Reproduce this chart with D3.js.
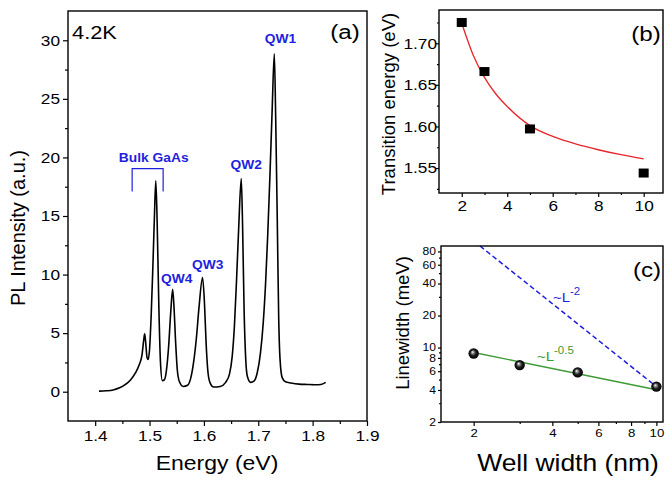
<!DOCTYPE html>
<html>
<head>
<meta charset="utf-8">
<script src="https://cdnjs.cloudflare.com/ajax/libs/d3/7.8.5/d3.min.js"></script>
<style>
body { margin: 0; background: #fff; }
svg { display: block; }
text { font-family: "Liberation Sans", Arial, Helvetica, sans-serif; }
</style>
</head>
<body>
<script>
// ---- panel (a): PL spectrum at 4.2K ----
var energy = [1.407, 1.420, 1.433, 1.445, 1.455, 1.465, 1.474, 1.481, 1.486, 1.4895,
	1.491, 1.4925, 1.4955, 1.4975, 1.500, 1.503, 1.506, 1.509, 1.5115, 1.514,
	1.517, 1.520, 1.5235, 1.527, 1.531, 1.535, 1.539, 1.5425, 1.545, 1.548,
	1.551, 1.555, 1.562, 1.570, 1.576, 1.581, 1.586, 1.591, 1.5975, 1.601,
	1.604, 1.607, 1.611, 1.618, 1.630, 1.640, 1.647, 1.652, 1.656, 1.660,
	1.664, 1.6687, 1.671, 1.674, 1.677, 1.680, 1.686, 1.692, 1.698, 1.704,
	1.709, 1.7135, 1.7175, 1.7215, 1.7255, 1.7295, 1.732, 1.735, 1.7375, 1.740,
	1.744, 1.750, 1.760, 1.775, 1.790, 1.805, 1.815, 1.824];
var intensity = [0.05, 0.08, 0.15, 0.33, 0.6, 1.0, 1.6, 2.3, 3.1, 4.5,
	4.95, 4.4, 2.9, 2.75, 3.6, 6.5, 10.5, 15.0, 18.0, 14.5,
	7.5, 2.6, 0.95, 1.0, 1.8, 3.8, 6.8, 8.75, 7.2, 4.2,
	1.9, 0.85, 0.45, 0.55, 1.2, 2.5, 4.5, 7.2, 9.75, 7.6,
	4.2, 1.9, 0.8, 0.4, 0.45, 0.8, 1.5, 3.0, 5.5, 9.5,
	14.0, 18.2, 14.5, 6.8, 2.7, 1.3, 0.8, 0.9, 1.6, 3.3,
	5.8, 9.3, 13.5, 18.5, 24.0, 28.85, 23.5, 14.5, 6.5, 2.8,
	1.2, 0.85, 0.75, 0.65, 0.62, 0.6, 0.62, 0.8];
var peakNames = ["Bulk GaAs", "QW4", "QW3", "QW2", "QW1"];
var peakNameE = [1.5076, 1.550, 1.607, 1.678, 1.7408];
var peakNameI = [19.6, 9.3, 10.5, 19.05, 29.8];
var bracketE = [1.468, 1.525];
var bracketI = [17.1, 19.05];
var xTicksA = [1.4, 1.5, 1.6, 1.7, 1.8, 1.9];
var yTicksA = [0, 5, 10, 15, 20, 25, 30];

// ---- panel (b): transition energy vs well width ----
var wellWidth = [2, 3, 5, 10];
var transEnergy = [1.725, 1.666, 1.597, 1.544];
var fitWidth = [2, 2.5, 3, 3.5, 4, 5, 6, 7, 8, 9, 10];
var fitEnergy = [1.724, 1.686, 1.659, 1.639, 1.624, 1.601, 1.588, 1.579, 1.572, 1.566, 1.561];
var xTicksB = [2, 4, 6, 8, 10];
var yTicksB = [1.55, 1.60, 1.65, 1.70];

// ---- panel (c): linewidth vs well width (log-log) ----
var lineWidth = [8.8, 6.85, 5.85, 4.3];
var greenWidth = [2, 10];
var greenLine = [9.0, 4.02];
var blueWidth = [2.115, 10];
var blueLine = [90, 4.3];
var xTicksC = [2, 4, 6, 8, 10];
var yTicksC = [2, 4, 6, 8, 10, 20, 40, 60, 80];

var SX = 1.15; // the original figure text is a bit wider than Arial
var blue = "#1f1fe0", green = "#3d9a35", red = "#e8262a";

var svg = d3.select("body").append("svg").attr("width", 665).attr("height", 478);

var defs = svg.append("defs");
var grad = defs.append("radialGradient").attr("id", "ball")
	.attr("cx", "50%").attr("cy", "50%").attr("r", "50%").attr("fx", "38%").attr("fy", "35%");
grad.append("stop").attr("offset", "0%").attr("stop-color", "#ffffff");
grad.append("stop").attr("offset", "22%").attr("stop-color", "#9a9a9a");
grad.append("stop").attr("offset", "55%").attr("stop-color", "#202020");
grad.append("stop").attr("offset", "100%").attr("stop-color", "#000000");

function label(g, x, y, str, size, opts) {
	opts = opts || {};
	var t = g.append("text")
		.attr("transform", "translate(" + x + "," + y + ")" + (opts.rotate ? " rotate(-90)" : " scale(" + SX + ",1)"))
		.attr("text-anchor", opts.anchor || "middle")
		.attr("font-size", size)
		.attr("font-weight", opts.bold ? "bold" : null)
		.attr("fill", opts.color || "#000")
		.text(str);
	return t;
}

function styleAxis(g, size, textX) {
	g.select(".domain").remove();
	g.selectAll("line").attr("stroke", "#000").attr("stroke-width", 1.2);
	g.selectAll("text").attr("font-size", size).attr("fill", "#000")
		.attr("font-family", "Liberation Sans, Arial, sans-serif")
		.attr("transform", "scale(" + SX + ",1)");
	if (textX !== undefined) g.selectAll("text").attr("x", textX / SX);
}

function frame(g, x, y) {
	g.append("rect")
		.attr("x", x.range()[0]).attr("y", y.range()[1])
		.attr("width", x.range()[1] - x.range()[0])
		.attr("height", y.range()[0] - y.range()[1])
		.attr("fill", "none").attr("stroke", "#000").attr("stroke-width", 1.4);
}

// ================= panel (a) =================
var ga = svg.append("g");
var xa = d3.scaleLinear().domain([1.35, 1.9]).range([68, 367]);
var ya = d3.scaleLinear().domain([-2.5, 32.5]).range([421, 11]);

ga.append("g").attr("transform", "translate(0,421)")
	.call(d3.axisBottom(xa).tickValues(d3.range(1.45, 1.9, 0.1)).tickSize(3).tickFormat(""))
	.call(function (g) { styleAxis(g, 0); });
ga.append("g").attr("transform", "translate(0,421)")
	.call(d3.axisBottom(xa).tickValues(xTicksA).tickSize(5).tickPadding(4).tickFormat(d3.format(".1f")))
	.call(function (g) { styleAxis(g, 15); });
ga.append("g").attr("transform", "translate(68,0)")
	.call(d3.axisLeft(ya).tickValues(d3.range(2.5, 30, 5)).tickSize(3).tickFormat(""))
	.call(function (g) { styleAxis(g, 0); });
ga.append("g").attr("transform", "translate(68,0)")
	.call(d3.axisLeft(ya).tickValues(yTicksA).tickSize(5).tickFormat(d3.format("d")))
	.call(function (g) { styleAxis(g, 15, -8); });

var spec = energy.map(function (e, i) { return [e, intensity[i]]; });
ga.append("path").datum(spec)
	.attr("fill", "none").attr("stroke", "#000").attr("stroke-width", 1.6)
	.attr("stroke-linejoin", "round")
	.attr("d", d3.line().x(function (d) { return xa(d[0]); }).y(function (d) { return ya(d[1]); })
		.curve(d3.curveMonotoneX));

ga.append("path")
	.attr("fill", "none").attr("stroke", blue).attr("stroke-width", 1.2)
	.attr("d", "M" + xa(bracketE[0]) + "," + ya(bracketI[0]) +
		"V" + ya(bracketI[1]) + "H" + xa(bracketE[1]) + "V" + ya(bracketI[0]));

peakNames.forEach(function (n, i) {
	label(ga, xa(peakNameE[i]), ya(peakNameI[i]), n, 12, { bold: true, color: blue });
});

frame(ga, xa, ya);
label(ga, 72, 39, "4.2K", 19, { anchor: "start" });
label(ga, 345, 39, "(a)", 21);
label(ga, 217, 470, "Energy (eV)", 20);
label(ga, 25, 228, "PL Intensity (a.u.)", 20, { rotate: true });

// ================= panel (b) =================
var gb = svg.append("g");
var xb = d3.scaleLinear().domain([1, 10.85]).range([439, 663]);
var yb = d3.scaleLinear().domain([1.52, 1.74]).range([193, 10]);

gb.append("g").attr("transform", "translate(0,193)")
	.call(d3.axisBottom(xb).tickValues([3, 5, 7, 9]).tickSize(2).tickFormat(""))
	.call(function (g) { styleAxis(g, 0); });
gb.append("g").attr("transform", "translate(0,193)")
	.call(d3.axisBottom(xb).tickValues(xTicksB).tickSize(4).tickPadding(3).tickFormat(d3.format("d")))
	.call(function (g) { styleAxis(g, 15); });
gb.append("g").attr("transform", "translate(439,0)")
	.call(d3.axisLeft(yb).tickValues([1.525, 1.575, 1.625, 1.675, 1.725]).tickSize(2).tickFormat(""))
	.call(function (g) { styleAxis(g, 0); });
gb.append("g").attr("transform", "translate(439,0)")
	.call(d3.axisLeft(yb).tickValues(yTicksB).tickSize(3).tickFormat(d3.format(".2f")))
	.call(function (g) { styleAxis(g, 15, -2); });

var fit = fitWidth.map(function (w, i) { return [w, fitEnergy[i]]; });
gb.append("path").datum(fit)
	.attr("fill", "none").attr("stroke", red).attr("stroke-width", 1.3)
	.attr("d", d3.line().x(function (d) { return xb(d[0]); }).y(function (d) { return yb(d[1]); })
		.curve(d3.curveMonotoneX));

gb.selectAll("rect.sq").data(wellWidth).enter().append("rect")
	.attr("class", "sq")
	.attr("x", function (d) { return xb(d) - 5; })
	.attr("y", function (d, i) { return yb(transEnergy[i]) - 4.5; })
	.attr("width", 10).attr("height", 9)
	.attr("fill", "#000");

frame(gb, xb, yb);
label(gb, 646, 41, "(b)", 21);
label(gb, 395, 104, "Transition energy (eV)", 18.5, { rotate: true });

// ================= panel (c) =================
var gc = svg.append("g");
var xc = d3.scaleLog().domain([1.5, 10.6]).range([441, 663]);
var yc = d3.scaleLog().domain([2, 90]).range([422, 246]);

gc.append("g").attr("transform", "translate(0,422)")
	.call(d3.axisBottom(xc).tickValues([3, 5, 7, 9]).tickSize(2).tickFormat(""))
	.call(function (g) { styleAxis(g, 0); });
gc.append("g").attr("transform", "translate(0,422)")
	.call(d3.axisBottom(xc).tickValues(xTicksC).tickSize(4).tickPadding(3).tickFormat(d3.format("d")))
	.call(function (g) { styleAxis(g, 11.5); });
gc.append("g").attr("transform", "translate(441,0)")
	.call(d3.axisLeft(yc).tickValues([3, 5, 7, 9, 30, 50, 70]).tickSize(2).tickFormat(""))
	.call(function (g) { styleAxis(g, 0); });
gc.append("g").attr("transform", "translate(441,0)")
	.call(d3.axisLeft(yc).tickValues(yTicksC).tickSize(3).tickFormat(d3.format("d")))
	.call(function (g) { styleAxis(g, 10.5, -5); });

gc.append("line")
	.attr("x1", xc(blueWidth[0])).attr("y1", yc(blueLine[0]))
	.attr("x2", xc(blueWidth[1])).attr("y2", yc(blueLine[1]))
	.attr("stroke", blue).attr("stroke-width", 1.5).attr("stroke-dasharray", "5,3");
gc.append("line")
	.attr("x1", xc(greenWidth[0])).attr("y1", yc(greenLine[0]))
	.attr("x2", xc(greenWidth[1])).attr("y2", yc(greenLine[1]))
	.attr("stroke", green).attr("stroke-width", 1.4);

gc.selectAll("circle.ball").data(wellWidth).enter().append("circle")
	.attr("class", "ball")
	.attr("cx", function (d) { return xc(d); })
	.attr("cy", function (d, i) { return yc(lineWidth[i]); })
	.attr("r", 5.2)
	.attr("fill", "url(#ball)");

var tl2 = label(gc, 553, 302, "~L", 13, { anchor: "start", color: blue });
tl2.append("tspan").attr("dy", -7).attr("font-size", 10).text("-2");
var tl05 = label(gc, 537, 361, "~L", 13, { anchor: "start", color: green });
tl05.append("tspan").attr("dy", -7).attr("font-size", 10).text("-0.5");

frame(gc, xc, yc);
label(gc, 647, 277, "(c)", 21);
label(gc, 409, 323, "Linewidth (meV)", 18.5, { rotate: true });
label(gc, 568, 471, "Well width (nm)", 23);
</script>
</body>
</html>
